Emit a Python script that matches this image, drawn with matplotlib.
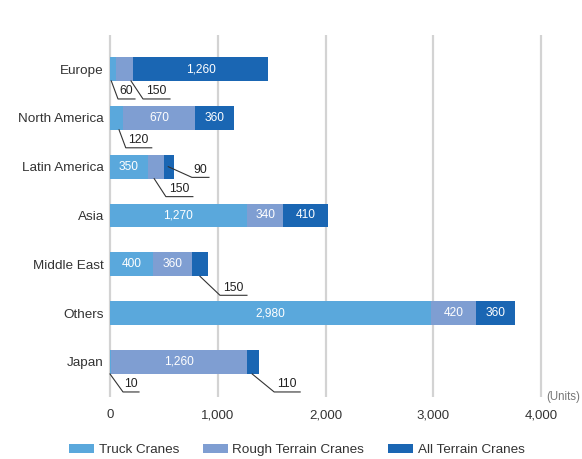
import numpy as np
import matplotlib
matplotlib.use("Agg")
import matplotlib.pyplot as plt

plt.rcParams['font.family'] = ['Liberation Sans', 'DejaVu Sans']

regions = ['Europe', 'North America', 'Latin America', 'Asia', 'Middle East', 'Others', 'Japan']
truck = [60, 120, 350, 1270, 400, 2980, 10]
rough = [150, 670, 150, 340, 360, 420, 1260]
all_terrain = [1260, 360, 90, 410, 150, 360, 110]
series_names = ['Truck Cranes', 'Rough Terrain Cranes', 'All Terrain Cranes']
colors = ['#5aa8dc', '#7f9ed2', '#1a66b3']

# labels drawn outside the bar with a leader line: (row, series)
outside = [(0, 0), (0, 1), (1, 0), (2, 1), (2, 2), (4, 2), (6, 0), (6, 2)]

W, H = 582, 459
fig = plt.figure(figsize=(W / 100, H / 100), dpi=100)
x0, x1 = -30, 4030
px_per_unit = 431 / 4000
ax_left = (110 + x0 * px_per_unit) / W
ax_w = (x1 - x0) * px_per_unit / W
ax = fig.add_axes([ax_left, 1 - 397 / H, ax_w, 362 / H])
row_px = 48.83
y_top = -(69 - 35) / row_px
y_bot = 6 + (397 - 362) / row_px
ax.set_xlim(x0, x1)
ax.set_ylim(y_bot, y_top)

ypos = np.arange(len(regions))
bar_h = 0.49
for xv in range(0, 4001, 1000):
    ax.axvline(xv, color='#d3d3d3', lw=1.6, zorder=0)

vals = [truck, rough, all_terrain]
left = np.zeros(len(regions))
for s, (name, v, c) in enumerate(zip(series_names, vals, colors)):
    ax.barh(ypos, v, left=left, height=bar_h, color=c, label=name, zorder=2)
    for i, val in enumerate(v):
        if (i, s) in outside:
            continue
        ax.text(left[i] + val / 2, ypos[i], f'{val:,}', color='white',
                ha='center', va='center', fontsize=8.6, zorder=3)
    left = left + np.array(v)

# leader lines: start fraction in segment, start at bar bottom or middle, dx, dy, tail (pixels)
leaders = {
    (0, 0): (0.2, 'bottom', 6.7, 18, 17),
    (0, 1): (0.9, 'bottom', 12, 18, 27),
    (1, 0): (0.7, 'bottom', 6.7, 18, 26),
    (2, 1): (0.4, 'bottom', 11.7, 18, 27),
    (2, 2): (0.45, 'middle', 23.7, 10.7, 17),
    (4, 2): (0.5, 'bottom', 20, 19, 27),
    (6, 0): (0.0, 'bottom', 13, 18, 16),
    (6, 2): (0.45, 'bottom', 22, 18, 26),
}
starts = np.cumsum([[0] * len(regions)] + vals[:-1], axis=0)
for (i, s), (frac, where, dx, dy, tail) in leaders.items():
    val = vals[s][i]
    sx = starts[s][i] + frac * val
    sy = ypos[i] + (bar_h / 2 if where == 'bottom' else 0)
    ex = sx + dx / px_per_unit
    ey = sy + dy / row_px
    tx = ex + tail / px_per_unit
    ax.plot([sx, ex, tx], [sy, ey, ey], color='#333333', lw=0.8, zorder=4,
            clip_on=False)
    ax.text((ex + tx) / 2, ey - 1.5 / row_px, f'{val:,}', color='#222222',
            ha='center', va='bottom', fontsize=8.8, zorder=4)

ax.set_yticks(ypos)
ax.set_yticklabels(regions, fontsize=9.7, color='#333333')
ax.set_xticks(range(0, 4001, 1000))
ax.set_xticklabels([f'{t:,}' for t in range(0, 4001, 1000)], fontsize=9.5,
                   color='#333333')
ax.tick_params(axis='both', length=0)
ax.tick_params(axis='x', pad=9)
ax.tick_params(axis='y', pad=2)
for sp in ax.spines.values():
    sp.set_visible(False)

fig.text(546 / W, 1 - 397 / H, '(Units)', fontsize=8.3, color='#777777',
         ha='left', va='center')

fig.legend(loc='center', bbox_to_anchor=(297 / W, 1 - 450 / H), ncol=3,
           frameon=False, fontsize=9.7, handlelength=1.85, handleheight=0.67,
           columnspacing=1.78, handletextpad=0.33, labelcolor='#333333')

fig.savefig('out.png', dpi=100)
